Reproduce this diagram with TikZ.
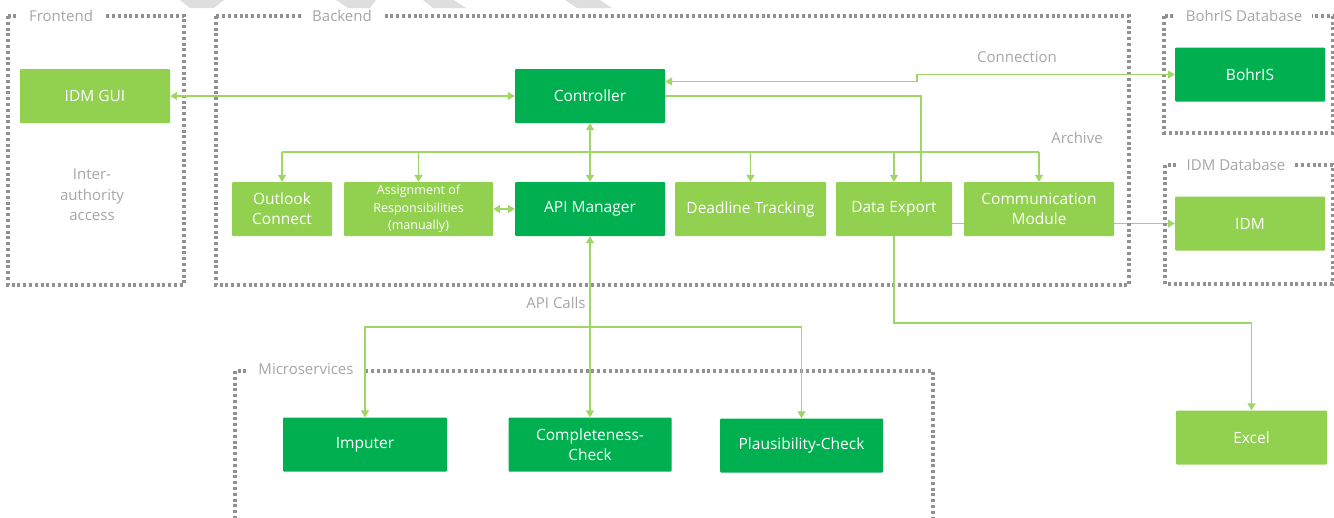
\documentclass[tikz,border=0pt]{standalone}
\usepackage{fontspec}
\setmainfont{Open Sans}
\usepackage{tikz}
\usetikzlibrary{arrows.meta,backgrounds}
\definecolor{darkgreen}{RGB}{0,176,80}
\definecolor{lightgreen}{RGB}{146,208,80}
\definecolor{linegreen}{RGB}{160,214,100}
\definecolor{framegray}{RGB}{145,145,145}
\definecolor{labelgray}{RGB}{166,166,166}
\definecolor{stripegray}{RGB}{222,222,222}

\begin{document}
\begin{tikzpicture}[x=1pt, y=-1pt,
    box/.style={rectangle, rounded corners=1pt, text=white, align=center, minimum height=54pt, inner sep=2pt, font=\fontsize{15.5}{20}\selectfont},
    darkbox/.style={box, fill=darkgreen},
    lightbox/.style={box, fill=lightgreen},
    frame/.style={draw=framegray, line width=3.2pt, dash pattern=on 3pt off 2.8pt},
    framelabel/.style={fill=white, text=labelgray, inner xsep=10pt, inner ysep=1pt, font=\fontsize{15}{20}\selectfont},
    note/.style={text=labelgray, align=center, font=\fontsize{15}{20.5}\selectfont},
    link/.style={draw=linegreen, line width=1.3pt},
    arrow/.style={link, -{Triangle[length=7pt,width=8pt]}},
    twoway/.style={link, {Triangle[length=7pt,width=8pt]}-{Triangle[length=7pt,width=8pt]}}]
    \useasboundingbox (0,0) rectangle (1334,517);

    % Stripes at the top edge
    \fill[stripegray] (180,0) -- (224,0) -- (214,8) -- (190,8) -- cycle;
    \fill[stripegray] (336,0) -- (376,0) -- (370,8) -- (348,8) -- cycle;
    \fill[stripegray] (423,0) -- (454,0) -- (466,8) -- (433,8) -- cycle;
    \fill[stripegray] (565,0) -- (600,0) -- (612,8) -- (577,8) -- cycle;

    % Dotted groups
    \draw[frame] (8,16) rectangle (184,285);
    \draw[frame] (216,16) rectangle (1129,285);
    \draw[frame] (1164,16) rectangle (1333,133);
    \draw[frame] (1165,165) rectangle (1333,284);
    \draw[frame] (235,371) rectangle (933,540);
    \node[framelabel] (frontlbl) at (61,16) {Frontend};
    \node[framelabel] (backlbl) at (342,16) {Backend};
    \node[framelabel] (bohrlbl) at (1244,16) {BohrIS Database};
    \node[framelabel] (idmlbl) at (1236,165) {IDM Database};
    \node[framelabel] (microlbl) at (306,369) {Microservices};

    % Frontend
    \node[lightbox, minimum width=150pt] (gui) at (95,96) {IDM GUI};
    \node[note] (access) at (92,195) {Inter-\\authority\\access};

    % Backend
    \node[darkbox, minimum width=150pt] (ctrl) at (590,96) {Controller};
    \node[lightbox, minimum width=100pt] (outlook) at (282,209) {Outlook\\Connect};
    \node[lightbox, minimum width=149pt, font=\fontsize{12.5}{17.5}\selectfont] (assign) at (418.5,209) {Assignment of\\Responsibilities\\(manually)};
    \node[darkbox, minimum width=150pt] (api) at (590,209) {API Manager};
    \node[lightbox, minimum width=151pt] (deadline) at (750.5,209) {Deadline Tracking};
    \node[lightbox, minimum width=116pt] (export) at (894,209) {Data Export};
    \node[lightbox, minimum width=150pt] (comm) at (1039,209) {Communication\\Module};
    \node[note] (connlbl) at (1017,57) {Connection};
    \node[note] (archlbl) at (1077,138) {Archive};

    % Databases and Excel
    \node[darkbox, minimum width=150pt] (bohris) at (1250,74.5) {BohrIS};
    \node[lightbox, minimum width=150pt] (idm) at (1250,223.5) {IDM};
    \node[lightbox, minimum width=151pt] (excel) at (1251.5,437.5) {Excel};

    % Microservices
    \node[darkbox, minimum width=164pt] (imputer) at (365,444.5) {Imputer};
    \node[darkbox, minimum width=163pt] (complete) at (590,444.5) {Completeness-\\Check};
    \node[darkbox, minimum width=163pt] (plaus) at (801.5,445.5) {Plausibility-Check};
    \node[note] (callslbl) at (556,303) {API Calls};

    % Controller links
    \coordinate (bend) at (917,74.5);
    \draw[twoway] (gui.east) -- (ctrl.west);
    \draw[twoway] ([yshift=14.5pt]ctrl.east) -| (bend) -- (bohris.west);
    \draw[link] (ctrl.east) -| ([xshift=27pt]export.north);
    \draw[twoway] (ctrl.south) -- (api.north);
    \draw[twoway] (assign.east) -- (api.west);

    % Distribution line
    \coordinate (busleft) at (282,152);
    \coordinate (busright) at (1039,152);
    \draw[link] (busleft) -- (busright);
    \foreach \n in {outlook,assign,deadline,export,comm}
        \draw[arrow] (\n.north |- busleft) -- (\n.north);

    % Export to IDM and Excel
    \begin{scope}[on background layer]
        \draw[arrow] ([yshift=-14.5pt]export.east) -- (idm.west);
    \end{scope}
    \coordinate (xlbend) at (1251.5,323);
    \draw[arrow] (export.south) |- (xlbend) -- (excel.north);

    % API calls
    \coordinate (calls) at (590,327);
    \draw[arrow] (calls) -- (api.south);
    \draw[arrow] (calls) -| (imputer.north);
    \draw[arrow] (calls) -- (complete.north);
    \draw[arrow] (calls) -| (plaus.north);
\end{tikzpicture}
\end{document}
